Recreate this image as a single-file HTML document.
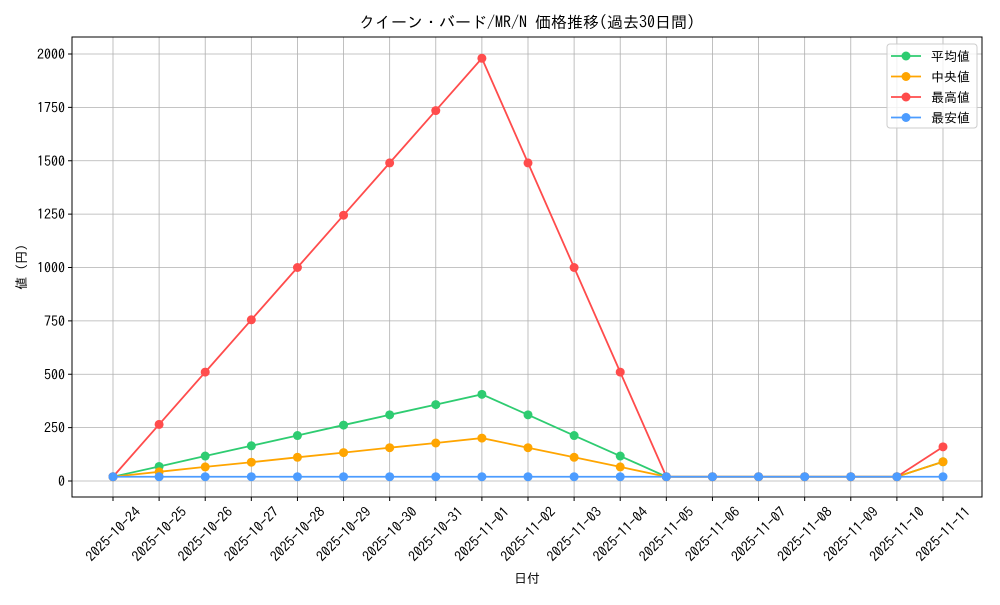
<!DOCTYPE html>
<html><head><meta charset="utf-8"><style>
body{margin:0;background:#fff;}
svg{font-family:"IPAGothic","Noto Sans CJK JP",sans-serif;}
</style></head><body>
<svg id="c" width="1000" height="600" xmlns="http://www.w3.org/2000/svg"></svg>
<script>
const categories=["2025-10-24","2025-10-25","2025-10-26","2025-10-27","2025-10-28","2025-10-29","2025-10-30","2025-10-31","2025-11-01","2025-11-02","2025-11-03","2025-11-04","2025-11-05","2025-11-06","2025-11-07","2025-11-08","2025-11-09","2025-11-10","2025-11-11"];
const avgValues=[20,68,117,165,213,262,310,358,406,310,213,117,20,20,20,20,20,20,90];
const medianValues=[20,43,66,88,111,133,156,178,201,156,111,66,20,20,20,20,20,20,90];
const maxValues=[20,265,510,755,1000,1245,1490,1735,1980,1490,1000,510,20,20,20,20,20,20,160];
const minValues=[20,20,20,20,20,20,20,20,20,20,20,20,20,20,20,20,20,20,20];
const yTicks=[0,250,500,750,1000,1250,1500,1750,2000];
const seriesNames=["平均値","中央値","最高値","最安値"];
const NS="http://www.w3.org/2000/svg";
const svg=document.getElementById('c');
const L=72,R=982,T=37,B=497;
const x=i=>113+i*(943-113)/(categories.length-1);
const y=v=>481-v*(481-54)/2000;
function el(t,a,p){const e=document.createElementNS(NS,t);for(const k in a)e.setAttribute(k,a[k]);(p||svg).appendChild(e);return e;}
categories.forEach((c,i)=>{
  const g=el('line',{x1:x(i),x2:x(i),y1:T,y2:B,stroke:'#b0b0b0','stroke-width':0.8});
  
  
  el('line',{x1:x(i),x2:x(i),y1:B,y2:B+4,stroke:'#000'});
  const cx=x(i), cy=B+37;
  const t=el('text',{x:cx,y:cy,'font-size':14,'text-anchor':'middle','dominant-baseline':'central',transform:`rotate(-45 ${cx} ${cy})`});
  t.textContent=c;
  
  
});
yTicks.forEach(v=>{
  const g=el('line',{x1:L,x2:R,y1:y(v),y2:y(v),stroke:'#b0b0b0','stroke-width':0.8});
  
  
  el('line',{x1:L-4,x2:L,y1:y(v),y2:y(v),stroke:'#000'});
  const t=el('text',{x:L-7,y:y(v)+5,'font-size':14,'text-anchor':'end'});
  t.textContent=v;
  
  
});
const colors=['#2ecc71','#ffa500','#ff4c4c','#4c9cff'];
[avgValues,medianValues,maxValues,minValues].forEach((vals,s)=>{
  const g=el('g',{});
  
  
  el('polyline',{points:vals.map((v,i)=>x(i)+','+y(v)).join(' '),fill:'none',stroke:colors[s],'stroke-width':1.8},g);
  vals.forEach((v,i)=>{
    const p=el('circle',{cx:x(i),cy:y(v),r:4.5,fill:colors[s]},g);
    
    
  });
});
el('rect',{x:L,y:T,width:R-L,height:B-T,fill:'none',stroke:'#000','stroke-width':1});
const title=el('text',{x:527,y:28,'font-size':16,'text-anchor':'middle'});
title.textContent='クイーン・バード/MR/N 価格推移(過去30日間)';


const xl=el('text',{x:527,y:583,'font-size':13,'text-anchor':'middle'});
xl.textContent='日付';


const yl=el('text',{x:26,y:267,'font-size':13,'text-anchor':'middle',transform:'rotate(-90 26 267)'});
yl.textContent='値 (円)';


const lg=el('g',{});


el('rect',{x:887,y:44,width:90,height:84,rx:3,fill:'#fff','fill-opacity':0.8,stroke:'#ccc'},lg);
seriesNames.forEach((n,s)=>{
  const yy=56+s*20.5;
  const e=el('g',{},lg);
  
  
  el('line',{x1:891,x2:921,y1:yy,y2:yy,stroke:colors[s],'stroke-width':1.8},e);
  el('circle',{cx:906,cy:yy,r:4.5,fill:colors[s]},e);
  const t=el('text',{x:931,y:yy+5,'font-size':13},e);
  t.textContent=n;
});
</script>
</body></html>
